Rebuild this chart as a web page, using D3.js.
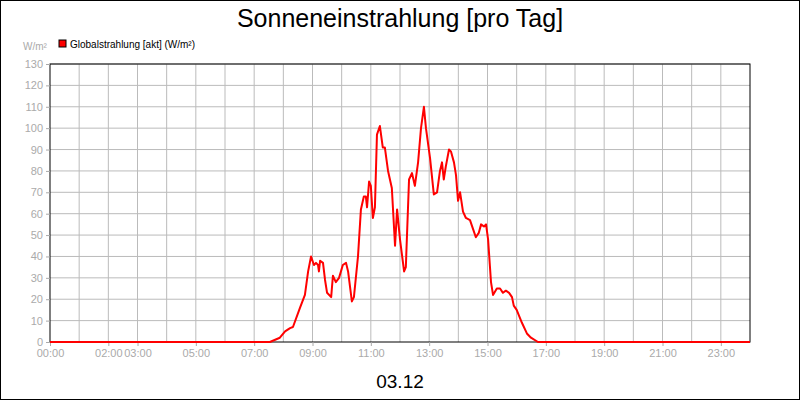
<!DOCTYPE html><html><head><meta charset="utf-8"><script src="https://cdn.jsdelivr.net/npm/d3@7"></script>
<style>body{margin:0}svg{font-family:"Liberation Sans",Arial,sans-serif}</style></head><body><svg id="c" width="800" height="400"></svg>
<script>
const hours=[0,7.54,7.88,8.06,8.23,8.33,8.57,8.74,8.85,8.95,9.05,9.12,9.19,9.22,9.26,9.36,9.43,9.5,9.64,9.7,9.8,9.91,10.04,10.15,10.22,10.35,10.42,10.56,10.66,10.76,10.83,10.87,10.94,11.0,11.07,11.14,11.21,11.31,11.41,11.48,11.59,11.72,11.83,11.9,12.0,12.14,12.2,12.31,12.41,12.51,12.62,12.72,12.82,12.89,13.03,13.16,13.27,13.37,13.44,13.5,13.57,13.68,13.75,13.85,13.92,13.99,14.06,14.16,14.26,14.4,14.5,14.6,14.7,14.78,14.88,14.95,15.02,15.12,15.19,15.32,15.43,15.53,15.63,15.74,15.84,15.9,16.0,16.18,16.35,16.49,16.73,24];
const values=[0,0,2,5,6.5,7,16,22,33,40,36,37,36,33,38,37,29,23,21,31,28,30,36,37,33,19,21,40,62,68,68,63,75,73,58,63,97,101,91,91,80,72,45,62,48,33,35,76,79,73,84,100,110,100,86,69,70,80,84,76,82,90,89,84,78,66,70,61,58,57,53,49,51,55,54,55,48,28,22,25,25,23,24,23,21,17,15,9,4,2,0,0];
const xTickLabels=[[0,"00:00"],[2,"02:00"],[3,"03:00"],[5,"05:00"],[7,"07:00"],[9,"09:00"],[11,"11:00"],[13,"13:00"],[15,"15:00"],[17,"17:00"],[19,"19:00"],[21,"21:00"],[23,"23:00"]];
const yTicks=d3.range(0,131,10);
const svg=d3.select("#c");
svg.append("rect").attr("x",0.5).attr("y",0.5).attr("width",799).attr("height",399).attr("fill","#fff").attr("stroke","#000");
const x=d3.scaleLinear().domain([0,24]).range([50,750]);
const y=d3.scaleLinear().domain([0,130]).range([342,64]);
const g=svg.append("g");
g.selectAll(".vg").data(d3.range(1,24)).join("line").attr("x1",d=>x(d)).attr("x2",d=>x(d)).attr("y1",64).attr("y2",342).attr("stroke","#bbb");
g.selectAll(".hg").data(yTicks.slice(1)).join("line").attr("x1",50).attr("x2",750).attr("y1",d=>y(d)).attr("y2",d=>y(d)).attr("stroke","#bbb");
svg.append("rect").attr("x",50).attr("y",64).attr("width",700).attr("height",278).attr("fill","none").attr("stroke","#000");
svg.append("g").attr("transform","translate(50,0)").call(d3.axisLeft(y).tickValues(yTicks).tickSize(4).tickSizeOuter(0)).call(a=>{a.select(".domain").remove();a.selectAll("line").attr("stroke","#aaa");a.selectAll("text").attr("fill","#aaa").attr("font-size",11).attr("font-family","Liberation Sans,Arial");});
svg.append("g").attr("transform","translate(0,342)").call(d3.axisBottom(x).tickValues(xTickLabels.map(d=>d[0])).tickFormat(d=>xTickLabels.find(t=>t[0]===d)[1]).tickSize(4).tickSizeOuter(0)).call(a=>{a.select(".domain").remove();a.selectAll("line").attr("stroke","#aaa");a.selectAll("text").attr("fill","#aaa").attr("font-size",11).attr("font-family","Liberation Sans,Arial");});
svg.append("path").datum(hours.map((h,i)=>[h,values[i]])).attr("fill","none").attr("stroke","#f00").attr("stroke-width",2).attr("stroke-linejoin","round").attr("d",d3.line().x(d=>x(d[0])).y(d=>y(d[1])));
svg.append("text").attr("x",400).attr("y",27).attr("text-anchor","middle").attr("font-size",25).text("Sonneneinstrahlung [pro Tag]");
svg.append("text").attr("x",23).attr("y",50).attr("font-size",10).attr("fill","#aaa").text("W/m²");
svg.append("rect").attr("x",59).attr("y",40).attr("width",7).attr("height",7).attr("fill","#f00").attr("stroke","#000");
svg.append("text").attr("x",70).attr("y",48).attr("font-size",10).text("Globalstrahlung [akt] (W/m²)");
svg.append("text").attr("x",400).attr("y",388).attr("text-anchor","middle").attr("font-size",19).text("03.12");
</script></body></html>
